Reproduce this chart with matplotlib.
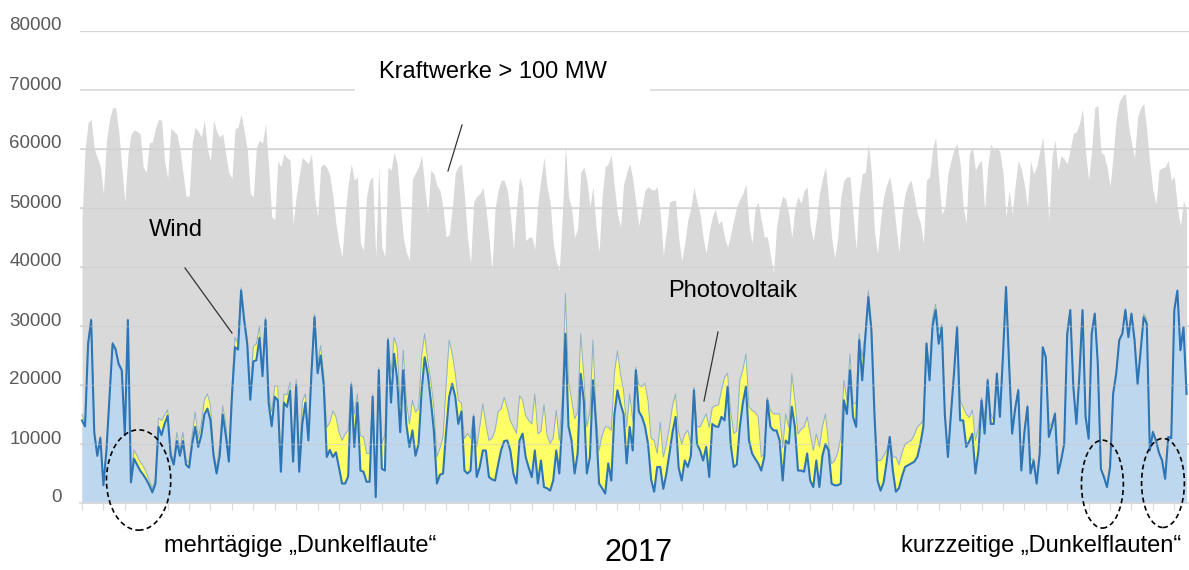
import numpy as np
import matplotlib
matplotlib.use("Agg")
import matplotlib.pyplot as plt
from matplotlib.patches import Ellipse
from matplotlib.lines import Line2D
from matplotlib.transforms import ScaledTranslation

plt.rcParams['font.family'] = ['Liberation Sans', 'DejaVu Sans']

# daily values 2017, MW (day 0 = 1 Jan)
kraftwerke = [
    48000, 60000, 64500, 65000, 60000, 58600, 57000, 52400, 61500, 65000,
    67000, 67000, 63000, 57000, 51000, 59000, 62500, 63200, 63000, 62600,
    57000, 56000, 61000, 61200, 63500, 65000, 64900, 58000, 55000, 63500,
    63000, 62500, 60000, 56000, 52000, 52000, 61000, 63700, 63000, 62000,
    65000, 60000, 58000, 64900, 63000, 62000, 62600, 59000, 56000, 55000,
    63400, 63700, 66000, 63000, 60000, 52500, 51900, 60300, 61500, 61000,
    64300, 57000, 48500, 48000, 58000, 57000, 59200, 58500, 58100, 47300,
    52000, 55500, 58600, 58000, 57500, 59200, 52000, 48500, 57000, 57500,
    56900, 55500, 52000, 47300, 44000, 41700, 49000, 54000, 57500, 54700,
    55300, 44000, 42800, 51900, 54700, 55300, 41500, 57000, 43400, 41700,
    57000, 56400, 59500, 57500, 51000, 45000, 42500, 41100, 55000, 56000,
    57000, 58900, 53600, 49000, 56400, 55800, 53800, 53000, 50000, 45100,
    45500, 50000, 56000, 57000, 57500, 52000, 45000, 40600, 51000, 52000,
    52400, 53500, 50000, 45000, 39400, 50000, 53000, 54700, 54700, 53000,
    49000, 43000, 50000, 55300, 53500, 44500, 45000, 45100, 43000, 51000,
    55000, 58600, 53500, 51000, 44000, 41000, 39400, 49000, 60600, 52000,
    50000, 45000, 46500, 56000, 57000, 54700, 50200, 53600, 46800, 42500,
    52000, 57000, 57500, 59000, 53500, 49000, 46800, 54000, 56000, 57500,
    55000, 51000, 47000, 50000, 53000, 53600, 53200, 53000, 53600, 49000,
    42000, 46000, 51000, 51300, 51300, 45000, 41100, 44000, 48000, 50000,
    53600, 51000, 49000, 45000, 42300, 46000, 48500, 49900, 47300, 47900,
    45000, 43400, 45500, 48000, 50200, 51500, 52500, 54100, 47000, 44000,
    50000, 51000, 48000, 45100, 45100, 42000, 39000, 46800, 50000, 52000,
    51500, 49000, 45000, 50000, 51900, 50800, 53000, 53600, 47000, 44500,
    48000, 52400, 55000, 57000, 51500, 45000, 41500, 45000, 51900, 54700,
    55300, 55300, 49000, 43000, 52000, 55800, 56000, 60900, 56000, 46000,
    42300, 48000, 52000, 54000, 55300, 52000, 47000, 42500, 49000, 52400,
    54000, 54700, 52000, 49000, 47500, 44000, 54700, 55300, 60000, 62000,
    55000, 49000, 50000, 55800, 58000, 60000, 60900, 57500, 50000, 47500,
    59200, 60300, 56400, 57500, 58100, 49600, 57000, 60900, 59800, 60300,
    59500, 56000, 48500, 53000, 49000, 54000, 58100, 56500, 54000, 50200,
    58000, 55800, 57000, 59500, 62000, 56000, 48000, 58600, 61500, 56400,
    58900, 58300, 57500, 60000, 62600, 62900, 64300, 66800, 59500, 54700,
    60000, 67000, 67400, 59500, 59000, 57000, 53600, 59000, 65000, 68000,
    69000, 69400, 64000, 61000, 58600, 65400, 67000, 67700, 63000, 57500,
    53000, 50700, 56400, 56800, 57000, 58100, 54700, 55300, 50000, 47000,
    51300, 49500,
]

wind = [
    14000, 13000, 27000, 31000, 12000, 8000, 11000, 3000, 9000, 18000,
    27000, 26000, 23500, 22500, 11500, 31000, 3500, 7500, 6500, 5500,
    4800, 4000, 3000, 1800, 3300, 12900, 11500, 13400, 14800, 8000,
    6500, 10500, 8000, 10500, 6500, 6000, 10000, 12900, 9500, 11500,
    15000, 16000, 14000, 8000, 5000, 8000, 15000, 11500, 7000, 18000,
    26400, 26000, 36000, 31000, 27000, 17500, 24000, 24200, 28000, 21500,
    31000, 17000, 13000, 18000, 17400, 5300, 17000, 16300, 19000, 7000,
    20000, 5300, 13400, 17000, 10600, 22000, 31500, 22000, 25000, 20000,
    7800, 9000, 7800, 8600, 6000, 3300, 3300, 4500, 20000, 9500,
    17000, 5500, 5300, 3600, 3600, 18000, 1000, 22500, 5800, 5500,
    27600, 17000, 25300, 21000, 12000, 22500, 13400, 9500, 12300, 8000,
    10000, 19000, 24700, 21900, 17400, 12300, 3300, 4800, 5000, 12000,
    18000, 20200, 18000, 13400, 15500, 5500, 5000, 5500, 14600, 4400,
    6100, 8900, 8900, 4400, 4000, 3800, 6500, 9000, 10500, 10600,
    8900, 5000, 3300, 10600, 11750, 7800, 6000, 4400, 8900, 3300,
    7200, 2700, 2500, 2100, 3800, 8900, 5000, 14000, 28700, 13000,
    10600, 5000, 8400, 21900, 17400, 5000, 7800, 20800, 13400, 3300,
    2500, 1600, 6700, 3800, 15000, 19100, 16800, 15100, 6700, 12900,
    8900, 22500, 15500, 14600, 13000, 10000, 4000, 1900, 6100, 6100,
    2400, 5000, 8400, 12000, 14600, 6000, 3800, 7200, 6100, 8000,
    19100, 10000, 8900, 7200, 9500, 4400, 13400, 13000, 12900, 14600,
    14000, 19700, 10000, 6100, 6500, 12900, 17000, 19700, 10600, 8400,
    7500, 6700, 5500, 7800, 17400, 12900, 12300, 12300, 10600, 3800,
    10600, 10000, 16300, 12900, 5500, 5500, 5300, 8400, 3800, 2700,
    7200, 2700, 8000, 10000, 8900, 3300, 3000, 3000, 3300, 17400,
    15100, 22500, 14600, 12900, 27600, 20800, 28000, 34900, 29300, 15100,
    3800, 2100, 3500, 7000, 11200, 5500, 1900, 2500, 4500, 6100,
    6400, 6700, 7000, 7800, 10000, 13000, 27000, 20800, 30000, 32700,
    27000, 29800, 15000, 7800, 15100, 22000, 29800, 14000, 14000, 9500,
    10500, 11750, 5000, 8900, 17400, 11750, 20800, 13400, 13400, 21900,
    14600, 25000, 36600, 23600, 11750, 16000, 19100, 5500, 12000, 16300,
    5000, 7200, 3300, 8400, 26400, 24700, 11200, 13000, 15100, 5000,
    7200, 10000, 28700, 32700, 19700, 13400, 21900, 32700, 14600, 10900,
    28700, 32100, 23600, 5800, 4400, 2700, 6100, 18500, 21900, 27600,
    28700, 32700, 28100, 32100, 27600, 20200, 25900, 31500, 30400, 8900,
    12000, 10600, 8500, 7200, 4100, 11200, 11000, 32700, 36000, 25900,
    29800, 18500,
]

pv = [
    1000, 500, 300, 300, 300, 300, 300, 300, 300, 300,
    300, 300, 300, 300, 300, 0, 800, 1500, 1500, 1500,
    1500, 1200, 800, 600, 800, 1500, 2500, 1500, 1000, 700,
    800, 1500, 1000, 1500, 800, 800, 1500, 2500, 1500, 2000,
    2500, 2500, 2500, 1000, 800, 2000, 1500, 2000, 1000, 1500,
    1700, 1000, 500, 800, 800, 1500, 2500, 2800, 2000, 1500,
    500, 2000, 2500, 1800, 2500, 1500, 1500, 2000, 1500, 1500,
    1000, 2500, 3800, 1500, 1500, 1000, 500, 1500, 1700, 2000,
    5000, 4700, 7800, 6000, 6000, 7300, 8400, 7800, 500, 5600,
    1500, 5900, 5900, 4800, 4800, 500, 1500, 500, 4200, 6200,
    500, 4900, 2800, 5500, 4500, 3400, 4000, 3900, 5100, 7400,
    6000, 6000, 4000, 2200, 3400, 4000, 4500, 4500, 6200, 8000,
    9600, 5100, 4000, 4000, 1500, 5400, 6800, 5500, 500, 5100,
    6800, 7900, 4500, 6200, 7000, 8500, 9000, 7000, 7400, 5500,
    5000, 7900, 8500, 7600, 5700, 7000, 8000, 9000, 9600, 8400,
    5000, 14000, 9000, 8000, 7200, 6800, 5600, 4000, 6800, 7800,
    7000, 9300, 7000, 6800, 4300, 7900, 7800, 6800, 2000, 5600,
    9000, 11300, 6200, 8500, 7000, 6700, 5000, 4000, 6200, 5600,
    5000, 500, 4500, 5100, 7300, 7300, 7000, 8700, 2300, 7600,
    5400, 5000, 4500, 4500, 3900, 6000, 6200, 4500, 6200, 2000,
    500, 2900, 4000, 6800, 5600, 8400, 2800, 3500, 3700, 4500,
    7300, 2300, 5600, 5700, 5700, 7900, 5600, 5600, 5700, 7300,
    7900, 7900, 2300, 500, 500, 2800, 2800, 2800, 4500, 5600,
    4500, 2800, 5600, 4500, 6200, 7000, 7600, 6200, 7900, 6200,
    4500, 6800, 5000, 5100, 1000, 3400, 4200, 5500, 7900, 3400,
    2300, 2800, 2300, 3900, 1100, 3900, 1000, 1100, 500, 300,
    3400, 5100, 4500, 2000, 0, 2300, 5900, 4000, 4000, 3900,
    3900, 3900, 4500, 5100, 3400, 1000, 300, 2300, 1500, 1000,
    2200, 500, 500, 0, 0, 0, 300, 3400, 2200, 5600,
    4000, 4000, 5600, 4000, 500, 2800, 300, 1700, 600, 300,
    300, 0, 200, 0, 300, 300, 300, 300, 300, 300,
    2300, 300, 0, 0, 0, 300, 1700, 600, 300, 0,
    0, 0, 0, 0, 0, 0, 0, 0, 0, 0,
    0, 0, 0, 0, 0, 0, 0, 0, 0, 0,
    0, 300, 0, 0, 0, 0, 0, 600, 800, 0,
    300, 0, 0, 0, 0, 0, 0, 0, 0, 0,
    0, 0,
]

y_ticks = [0, 10000, 20000, 30000, 40000, 50000, 60000, 70000, 80000]

# ---------------------------
# figure
# ---------------------------
W, H = 1189, 570
fig = plt.figure(figsize=(W / 100, H / 100), dpi=100)
ax = fig.add_axes([80 / W, 1 - 503 / H, 1109 / W, 472 / H])

days = np.arange(len(wind))
wind = np.array(wind, dtype=float)
top = wind + np.array(pv, dtype=float)

ax.fill_between(days, 0, kraftwerke, color='#D9D9D9', lw=0, zorder=1)
ax.fill_between(days, 0, wind, color='#BDD7EE', lw=0, zorder=2)
ax.fill_between(days, wind, top, color='#FFFF66', lw=0, zorder=2)
ax.plot(days, top, color='#8DB0C8', lw=0.7, zorder=3)
ax.plot(days, wind, color='#2E75B6', lw=1.5, zorder=4)

ax.set_xlim(-0.65, 361.8)
ax.set_ylim(0, 80000)

# grid lines (70000 interrupted by the label box)
for v in y_ticks[1:]:
    if v == 70000:
        ax.hlines(v, -0.65, 89.2, color='#D9D9D9', lw=1.2, zorder=0)
        ax.hlines(v, 185.6, 361.8, color='#D9D9D9', lw=1.2, zorder=0)
    else:
        ax.hlines(v, -0.65, 361.8, color='#D9D9D9', lw=1.2, zorder=0)
        ax.hlines(v, -0.65, 361.8, color='#C8C8C8', lw=1.0, alpha=0.45, zorder=5)

for s in ['top', 'right', 'left']:
    ax.spines[s].set_visible(False)
ax.spines['bottom'].set_color('#D9D9D9')
ax.spines['bottom'].set_linewidth(1.2)
ax.spines['bottom'].set_zorder(6)

ax.set_xticks(np.arange(0, 362, 7))
ax.tick_params(axis='x', length=5, color='#D9D9D9', labelbottom=False)
ax.set_yticks(y_ticks)
ax.set_yticklabels([str(v) for v in y_ticks])
ax.tick_params(axis='y', length=0, pad=13, labelsize=13.5, labelcolor='#595959')
shift = ScaledTranslation(0, 0.07, fig.dpi_scale_trans)
for lab in ax.get_yticklabels():
    lab.set_transform(lab.get_transform() + shift)

# dashed circles around the "Dunkelflaute" periods
for cx, cy, w, h in [(18.5, 3900, 21, 17000), (333.5, 3200, 13.7, 14900), (353.3, 3400, 14, 15100)]:
    ax.add_patch(Ellipse((cx, cy), w, h, fill=False, ls=(0, (3, 2)), lw=1.2,
                         ec='black', zorder=8, clip_on=False))

def px(x, y):
    return x / W, 1 - y / H

fs = 17
fig.text(*px(493, 72), 'Kraftwerke > 100 MW', fontsize=fs, ha='center', va='center')
fig.text(*px(176, 230), 'Wind', fontsize=fs, ha='center', va='center')
fig.text(*px(733, 291), 'Photovoltaik', fontsize=fs, ha='center', va='center')
fig.text(*px(300, 546), 'mehrtägige „Dunkelflaute“', fontsize=fs, ha='center', va='center')
fig.text(*px(1041, 546), 'kurzzeitige „Dunkelflauten“', fontsize=fs, ha='center', va='center')
fig.text(*px(638, 553), '2017', fontsize=22, ha='center', va='center')

for (x1, y1), (x2, y2) in [((462, 125), (448, 171)),
                           ((185, 268), (232, 333)),
                           ((718, 332), (704, 401))]:
    (a1, b1), (a2, b2) = px(x1, y1), px(x2, y2)
    fig.add_artist(Line2D([a1, a2], [b1, b2], color='#333333', lw=0.9,
                          transform=fig.transFigure, zorder=10))

fig.savefig('out.png', dpi=100)
